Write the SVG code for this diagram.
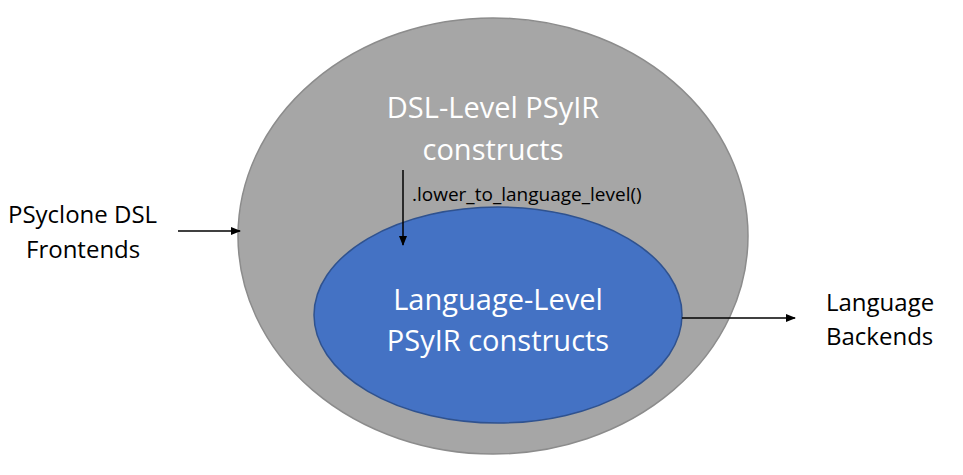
<svg xmlns="http://www.w3.org/2000/svg" width="963" height="475" viewBox="0 0 963 475">
<style>
.w{font-family:"Open Sans","Liberation Sans",sans-serif;fill:#fff;font-size:29px;text-anchor:middle}
.b{font-family:"Open Sans","Liberation Sans",sans-serif;fill:#000;font-size:24px}
.c{stroke:#000;stroke-width:1.5;fill:none;marker-end:url(#a)}
</style>
<defs><marker id="a" markerWidth="10" markerHeight="8" refX="9" refY="4" orient="auto" markerUnits="userSpaceOnUse"><path d="M0,0 L10,4 L0,8 z" fill="#000"/></marker></defs>
<g id="dsl"><ellipse cx="493" cy="236" rx="255" ry="218" fill="#a6a6a6" stroke="#8c8c8c" stroke-width="1.5"/>
<text class="w" x="493" y="118">DSL-Level PSyIR</text><text class="w" x="493" y="160">constructs</text></g>
<g id="lang"><ellipse cx="498" cy="315" rx="184" ry="108" fill="#4472c4" stroke="#2f528f" stroke-width="1.5"/>
<text class="w" x="498" y="310">Language-Level</text><text class="w" x="498" y="351">PSyIR constructs</text></g>
<g id="front"><text class="b" x="8" y="223">PSyclone DSL</text><text class="b" x="26" y="258">Frontends</text></g>
<g id="back"><text class="b" x="826" y="311">Language</text><text class="b" x="826" y="345">Backends</text></g>
<g id="connectors">
<path class="c" d="M403,170 L403,245"/>
<text x="412" y="201" font-family="Open Sans, Liberation Sans, sans-serif" font-size="19">.lower_to_language_level()</text>
<path class="c" d="M178,231 L240,231"/>
<path class="c" d="M682,318 L795,318"/>
</g>
</svg>
